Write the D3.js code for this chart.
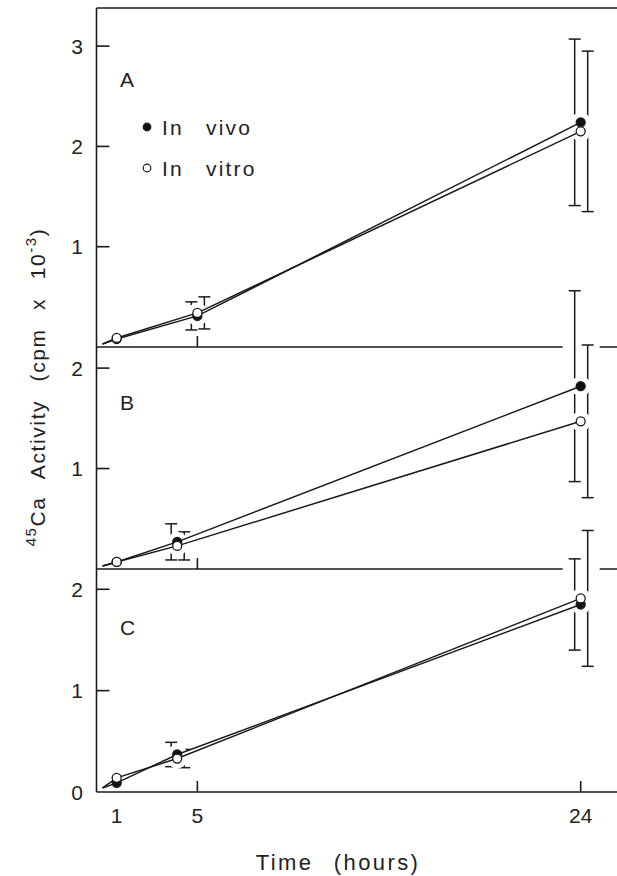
<!DOCTYPE html>
<html><head><meta charset="utf-8">
<script src="https://cdn.jsdelivr.net/npm/d3@7"></script>
<style>
html,body{margin:0;padding:0;background:#fff;}
svg{display:block;font-family:"Liberation Sans",Arial,sans-serif;}
text{fill:#222;}
</style></head><body>
<svg id="chart" width="617" height="876"></svg>
<script>
const panels=["A","B","C"];
const panelMax=[3.38,2.21,2.2];
const panelTicks=[[1,2,3],[1,2],[0,1,2]];
const panelLabelAt=[2.59,1.58,1.55];
const times=[[1,5,24],[1,4,24],[1,4,24]];
const vivo=[[0.08,0.31,2.24],[0.07,0.27,1.82],[0.09,0.37,1.85]];
const vivoErr=[[0,0.14,0.83],[0,0.18,0.95],[0,0.12,0.45]];
const vitro=[[0.09,0.34,2.15],[0.07,0.23,1.47],[0.14,0.33,1.91]];
const vitroErr=[[0,0.16,0.80],[0,0.14,0.76],[0,0.09,0.67]];
const startT=0.3;
const startV=[0.03,0.03,0.04];
const xTickLabels=[1,5,24];
const xTickMarks=[5,24];

const svg=d3.select("#chart");
const tops=[8,347,569];
const bottoms=[347,569,792];
const left=96.5,right=617;

const x=d3.scaleLinear().domain([0,25.8]).range([left,right]);
const ys=panels.map((p,i)=>d3.scaleLinear().domain([0,panelMax[i]]).range([bottoms[i],tops[i]]));

const gFrame=svg.append("g");
const gUnder=svg.append("g");
const gErr=svg.append("g");
const gHalo=svg.append("g");
const gLines=svg.append("g");
const gMarks=svg.append("g");
const gText=svg.append("g");

const series=[
  {vals:vivo,err:vivoErr,off:-6,fill:"#111"},
  {vals:vitro,err:vitroErr,off:7,fill:"#fff"}
];

// frame
gFrame.append("line").attr("x1",left).attr("x2",left).attr("y1",tops[0]).attr("y2",bottoms[2])
  .attr("stroke","#1a1a1a").attr("stroke-width",1.6);
gFrame.append("line").attr("x1",left).attr("x2",right).attr("y1",tops[0]).attr("y2",tops[0])
  .attr("stroke","#1a1a1a").attr("stroke-width",1.6);

panels.forEach((p,i)=>{
  const y=ys[i];
  gFrame.append("line").attr("x1",left).attr("x2",right).attr("y1",y(0)).attr("y2",y(0))
    .attr("stroke","#1a1a1a").attr("stroke-width",1.6);
  // y ticks inward
  panelTicks[i].forEach(v=>{
    if(v>0){
      gFrame.append("line").attr("x1",left).attr("x2",left+13).attr("y1",y(v)).attr("y2",y(v))
        .attr("stroke","#1a1a1a").attr("stroke-width",1.6);
    }
    gText.append("text").attr("x",77).attr("y",y(v)).attr("dy","0.36em")
      .attr("text-anchor","middle").attr("font-size",21).text(v);
  });
  // x ticks upward
  xTickMarks.forEach(t=>{
    gFrame.append("line").attr("x1",x(t)).attr("x2",x(t)).attr("y1",y(0)).attr("y2",y(0)-11)
      .attr("stroke","#1a1a1a").attr("stroke-width",1.6);
  });
  gText.append("text").attr("x",120).attr("y",y(panelLabelAt[i]))
    .attr("font-size",21).text(p);

  series.forEach(s=>{
    const vals=s.vals[i],err=s.err[i];
    times[i].forEach((t,j)=>{
      if(err[j]<=0)return;
      const xe=x(t)+s.off;
      const y1=y(vals[j]+err[j]),y2=y(vals[j]-err[j]);
      gUnder.append("line").attr("x1",xe).attr("x2",xe).attr("y1",y1).attr("y2",y2)
        .attr("stroke","#fff").attr("stroke-width",24);
      gErr.append("line").attr("x1",xe).attr("x2",xe).attr("y1",y1).attr("y2",y2)
        .attr("stroke","#1a1a1a").attr("stroke-width",1.5);
      [y1,y2].forEach(yy=>{
        gErr.append("line").attr("x1",xe-6).attr("x2",xe+6).attr("y1",yy).attr("y2",yy)
          .attr("stroke","#1a1a1a").attr("stroke-width",1.5);
      });
      gHalo.append("circle").attr("cx",x(t)).attr("cy",y(vals[j])).attr("r",10).attr("fill","#fff");
    });
    const pts=[[startT,startV[i]]].concat(times[i].map((t,j)=>[t,vals[j]]));
    gLines.append("path")
      .attr("d",d3.line().x(d=>x(d[0])).y(d=>y(d[1]))(pts))
      .attr("fill","none").attr("stroke","#1a1a1a").attr("stroke-width",1.5);
    gMarks.selectAll(null).data(times[i].map((t,j)=>[t,vals[j]])).enter().append("circle")
      .attr("cx",d=>x(d[0])).attr("cy",d=>y(d[1])).attr("r",4.5)
      .attr("fill",s.fill).attr("stroke","#1a1a1a").attr("stroke-width",1.3);
  });
});

// legend
const legend=[{label:"In vivo",fill:"#111",y:127},{label:"In vitro",fill:"#fff",y:168}];
legend.forEach(l=>{
  gText.append("circle").attr("cx",147).attr("cy",l.y).attr("r",3.8)
    .attr("fill",l.fill).attr("stroke","#1a1a1a").attr("stroke-width",1.2);
  gText.append("text").attr("x",162).attr("y",l.y+8).attr("font-size",21)
    .attr("letter-spacing","2.2px").attr("word-spacing","14px").text(l.label);
});

// x tick labels
xTickLabels.forEach(t=>{
  gText.append("text").attr("x",x(t)).attr("y",823).attr("text-anchor","middle")
    .attr("font-size",21).text(t);
});

gText.append("text").attr("x",338).attr("y",870).attr("text-anchor","middle")
  .attr("font-size",22).attr("letter-spacing","2.4px").attr("word-spacing","12px")
  .text("Time (hours)");

const yt=gText.append("text").attr("transform","translate(45,387) rotate(-90)")
  .attr("text-anchor","middle").attr("font-size",21)
  .attr("letter-spacing","1.6px").attr("word-spacing","11px");
yt.append("tspan").attr("font-size",15).attr("dy",-9).text("45");
yt.append("tspan").attr("dy",9).text("Ca Activity (cpm x 10");
yt.append("tspan").attr("font-size",15).attr("dy",-9).text("-3");
yt.append("tspan").attr("dy",9).text(")");
</script>
</body></html>
